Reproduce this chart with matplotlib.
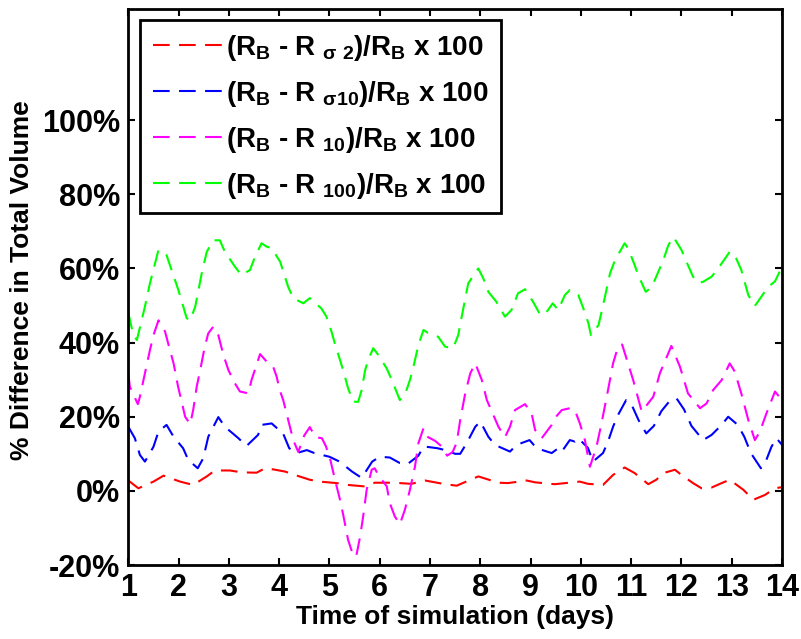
"""
Percent difference in total volume over a 14 day simulation.
"""

import matplotlib
matplotlib.use('Agg')
import matplotlib.pyplot as plt
from matplotlib.ticker import FuncFormatter

# --- data (day, percent) ---
red_x = [1.0, 1.2, 1.5, 1.7, 2.03, 2.29, 2.56, 2.72, 3.02, 3.25, 3.55, 3.72, 3.88,
         4.12, 4.31, 4.61, 4.81, 5.14, 5.37, 5.7, 5.9, 6.2, 6.4, 6.63, 6.9, 7.3,
         7.53, 7.96, 8.36, 8.55, 8.92, 9.09, 9.48, 9.98, 10.14, 10.44, 10.64,
         10.87, 11.07, 11.34, 11.5, 11.64, 11.87, 12.0, 12.23, 12.4, 12.6, 12.8,
         12.96, 13.23, 13.43, 13.66, 13.86, 14.0]
red_y = [2.8, 0.7, 2.5, 4.1, 2.5, 1.6, 3.9, 5.5, 5.5, 5.0, 4.9, 6.1, 5.8,
         5.2, 4.3, 3.0, 2.5, 2.1, 1.6, 1.2, 2.2, 2.2, 2.1, 1.9, 2.8, 1.8,
         1.4, 3.9, 2.2, 2.1, 2.8, 2.3, 1.8, 2.5, 1.9, 1.6, 4.3,
         6.3, 4.8, 1.8, 3.0, 4.8, 5.7, 4.3, 2.1, 0.7, 0.9, 2.1,
         3.0, 0.3, -2.4, -1.1, 0.7, 1.0]

blue_x = [1.0, 1.13, 1.23, 1.33, 1.5, 1.6, 1.76, 1.9, 2.09, 2.19, 2.38, 2.49, 2.59,
          2.79, 2.92, 3.19, 3.35, 3.58, 3.65, 3.85, 3.95, 4.05, 4.2, 4.35, 4.55,
          4.7, 5.0, 5.2, 5.45, 5.64, 5.85, 6.0, 6.2, 6.4, 6.55, 6.77, 6.87, 7.15,
          7.3, 7.5, 7.6, 7.73, 7.9, 8.0, 8.16, 8.29, 8.59, 8.72, 8.98, 9.12, 9.42,
          9.55, 9.62, 9.78, 9.88, 9.95, 10.14, 10.24, 10.44, 10.54, 10.64, 10.74,
          10.9, 11.0, 11.15, 11.3, 11.45, 11.6, 11.75, 11.9, 12.05, 12.2, 12.43,
          12.6, 12.8, 12.93, 13.12, 13.25, 13.38, 13.58, 13.69, 13.79, 13.89, 14.0]
blue_y = [17.3, 14.2, 9.7, 7.9, 11.9, 16.0, 17.8, 14.6, 11.5, 8.4, 6.1, 8.8, 14.6,
          19.9, 17.3, 14.2, 12.1, 15.1, 17.8, 18.2, 17.0, 16.4, 11.5, 10.2, 11.0,
          10.2, 9.2, 7.9, 5.2, 3.5, 7.9, 9.2, 9.0, 7.5, 7.2, 9.5, 12.0, 11.5,
          11.0, 10.0, 10.0, 12.9, 17.3, 18.7, 14.6, 12.4, 10.6, 12.4, 13.7, 11.5, 10.2,
          11.5, 10.6, 13.7, 13.3, 14.2, 11.6, 7.9, 10.2, 13.3, 17.3, 20.5,
          24.5, 23.5, 19.0, 15.5, 17.5, 21.5, 24.0, 25.0, 22.0, 17.5, 13.7,
          15.1, 17.8, 20.0, 17.8, 14.6, 10.2, 6.1, 8.4, 11.9, 14.2, 12.4]

magenta_x = [1.0, 1.03, 1.19, 1.23, 1.33, 1.43, 1.5, 1.6, 1.73, 1.8, 1.9, 1.99, 2.06,
             2.13, 2.23, 2.29, 2.36, 2.43, 2.52, 2.59, 2.69, 2.79, 2.89, 2.99, 3.12,
             3.22, 3.39, 3.45, 3.55, 3.62, 3.75, 3.88, 3.95, 4.01, 4.08, 4.18, 4.28,
             4.38, 4.5, 4.61, 4.72, 4.85, 4.93, 5.01, 5.11, 5.21, 5.28, 5.37, 5.45,
             5.53, 5.61, 5.67, 5.74, 5.84, 5.9, 5.97, 6.14, 6.2, 6.3, 6.4, 6.5, 6.6,
             6.7, 6.77, 6.87, 6.96, 7.1, 7.23, 7.34, 7.45, 7.53, 7.6, 7.7, 7.8, 7.9,
             8.03, 8.13, 8.23, 8.36, 8.49, 8.59, 8.69, 8.89, 9.02, 9.09, 9.22, 9.42,
             9.48, 9.62, 9.78, 9.88, 9.98, 10.08, 10.18, 10.31, 10.41, 10.54, 10.64,
             10.74, 10.82, 11.04, 11.21, 11.44, 11.57, 11.8, 11.97, 12.13, 12.37,
             12.5, 12.63, 12.8, 12.96, 13.06, 13.19, 13.33, 13.46, 13.56, 13.69,
             13.86, 14.0]
magenta_y = [31.7, 28.1, 23.4, 25.4, 31.7, 38.0, 42.0, 46.0, 43.0, 39.4, 34.4, 28.1, 24.1,
             20.0, 18.0, 21.8, 28.1, 32.6, 38.9, 42.5, 44.3, 42.0, 36.7, 32.6, 29.0,
             26.8, 26.3, 29.9, 34.0, 36.9, 34.9, 33.5, 30.8, 27.2, 24.5, 19.1, 13.7,
             10.5, 15.0, 17.2, 14.5, 14.2, 12.0, 8.8, 3.0, -2.4, -6.9, -13.2, -16.5,
             -17.8, -12.3, -6.9, 0.3, 5.7, 6.1, 4.3, 1.2, -3.3, -6.9, -9.0, -5.1, 0.3,
             6.5, 12.9, 16.9, 14.5, 13.5, 12.0, 9.5, 10.5, 13.0, 19.1, 26.3, 31.7, 34.4,
             29.9, 24.5, 21.4, 17.3, 14.5, 17.3, 21.8, 23.4, 20.9, 16.4, 14.2, 17.8,
             19.6, 21.8, 22.3, 21.8, 18.2, 13.7, 6.5, 11.9, 18.2, 27.2, 34.4,
             38.9, 39.5, 29.9, 21.4, 25.4, 31.7, 39.1, 33.5, 26.3, 22.3,
             23.6, 27.2, 29.9, 34.4, 32.2, 26.3, 19.1, 13.7, 16.0, 20.9,
             26.8, 24.5]

green_x = [1.0, 1.1, 1.17, 1.33, 1.43, 1.6, 1.76, 1.86, 2.0, 2.16, 2.23, 2.33, 2.46,
           2.56, 2.69, 2.82, 2.92, 3.12, 3.25, 3.42, 3.52, 3.65, 3.75, 3.85, 4.02,
           4.18, 4.28, 4.48, 4.61, 4.84, 4.94, 5.04, 5.11, 5.21, 5.28, 5.37, 5.47,
           5.57, 5.64, 5.71, 5.77, 5.87, 5.97, 6.14, 6.24, 6.4, 6.5, 6.6, 6.67,
           6.77, 6.87, 6.96, 7.16, 7.3, 7.46, 7.56, 7.63, 7.76, 7.96, 8.06, 8.16,
           8.32, 8.49, 8.62, 8.75, 8.89, 9.05, 9.18, 9.28, 9.44, 9.55, 9.68, 9.78,
           9.95, 10.05, 10.15, 10.2, 10.35, 10.45, 10.58, 10.68, 10.87, 10.94, 11.07,
           11.14, 11.29, 11.41, 11.54, 11.64, 11.74, 11.84, 12.0, 12.1, 12.23, 12.33,
           12.43, 12.6, 12.73, 12.96, 13.06, 13.19, 13.33, 13.46, 13.59, 13.72,
           13.86, 14.0]
green_y = [48.0, 42.0, 40.7, 49.7, 56.0, 65.0, 63.6, 59.6, 54.0, 46.6, 46.0, 49.7, 58.7,
           64.5, 67.6, 67.6, 64.5, 60.5, 58.2, 59.6, 63.2, 66.8, 65.9, 65.5, 61.8,
           55.0, 52.0, 50.6, 52.0, 49.2, 47.0, 43.0, 39.6, 35.3, 32.2, 27.7, 24.1,
           24.0, 27.2, 32.6, 35.3, 38.5, 36.7, 33.0, 29.9, 24.5, 25.9, 29.9, 33.5,
           39.4, 43.4, 42.6, 41.6, 38.9, 38.5, 42.0, 47.0, 56.0, 60.0, 57.3, 53.7,
           51.0, 47.0, 48.8, 53.3, 54.4, 51.0, 47.8, 47.5, 50.6, 48.8, 52.8, 54.2,
           52.8, 49.2, 45.2, 42.0, 44.7, 50.6, 58.7, 62.3, 66.8, 65.4, 60.9,
           58.2, 53.7, 55.0, 59.1, 62.3, 66.3, 68.5, 65.0, 61.8, 57.8, 56.1,
           56.4, 57.8, 60.0, 64.5, 63.6, 59.6, 52.8, 49.9, 52.4, 55.0,
           56.5, 60.5]

labels = [
    r'(R$_\mathrm{B}$ - R $_{\mathrm{\sigma\ 2}}$)/R$_\mathrm{B}$ x 100',
    r'(R$_\mathrm{B}$ - R $_{\mathrm{\sigma 10}}$)/R$_\mathrm{B}$ x 100',
    r'(R$_\mathrm{B}$ - R $_{\mathrm{10}}$)/R$_\mathrm{B}$ x 100',
    r'(R$_\mathrm{B}$ - R $_{\mathrm{100}}$)/R$_\mathrm{B}$ x 100',
]
colors = ['#ff0000', '#0000ff', '#ff00ff', '#00ff00']
x_ticks = list(range(1, 15))
y_ticks = [-20, 0, 20, 40, 60, 80, 100]

plt.rcParams['font.family'] = ['Liberation Sans', 'DejaVu Sans']
plt.rcParams['font.weight'] = 'bold'
plt.rcParams['mathtext.fontset'] = 'custom'
plt.rcParams['mathtext.rm'] = 'Liberation Sans:bold'
plt.rcParams['mathtext.it'] = 'Liberation Sans:bold'
plt.rcParams['mathtext.bf'] = 'Liberation Sans:bold'
plt.rcParams['mathtext.sf'] = 'Liberation Sans:bold'

fig = plt.figure(figsize=(8.01, 6.39), dpi=100)
ax = fig.add_axes([0.1602, 0.1158, 0.8161, 0.8701])

series = [(red_x, red_y), (blue_x, blue_y), (magenta_x, magenta_y), (green_x, green_y)]
for (xs, ys), c, lab in zip(series, colors, labels):
    ax.plot(xs, ys, color=c, linewidth=1.5, linestyle=(0, (8, 4.5)), label=lab)

ax.set_xlim(1, 14)
ax.set_ylim(-20, 130)
ax.set_xticks(x_ticks)
ax.set_yticks(y_ticks)
ax.yaxis.set_major_formatter(FuncFormatter(lambda v, p: f'{v:.0f}%'))

ax.tick_params(direction='in', length=5, width=1.5, labelsize=22, pad=6,
               top=True, right=True)
for sp in ax.spines.values():
    sp.set_linewidth(2)

ax.set_xlabel('Time of simulation (days)', fontsize=19, fontweight='bold', labelpad=1)
ax.set_ylabel('% Difference in Total Volume', fontsize=19, fontweight='bold')
ax.yaxis.set_label_coords(-0.145, 0.513)

leg = ax.legend(loc='upper left', bbox_to_anchor=(0.018, 0.98), fontsize=20,
                handlelength=2.5, handletextpad=0.15, labelspacing=0.58,
                borderpad=0.45, borderaxespad=0, fancybox=False, framealpha=1,
                edgecolor='black')
leg.get_frame().set_linewidth(2)

plt.savefig('out.png', dpi=100)
